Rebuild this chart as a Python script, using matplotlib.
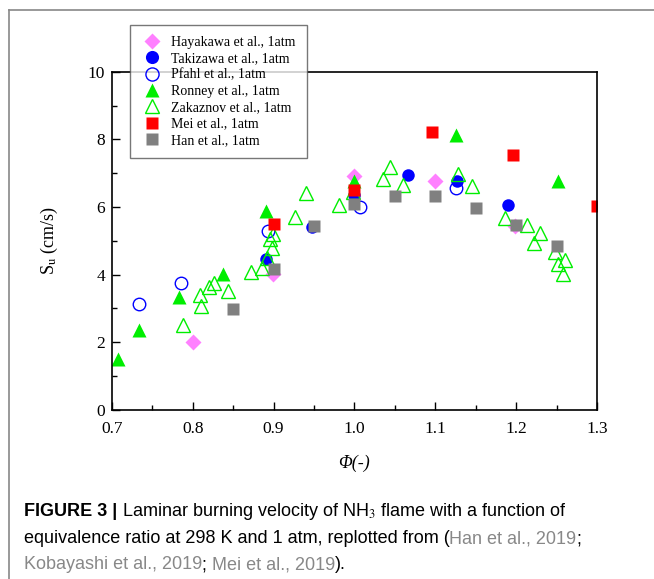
import numpy as np
import matplotlib
matplotlib.use('Agg')
from matplotlib import pyplot as plt
from matplotlib.lines import Line2D
from matplotlib.ticker import MultipleLocator

# equivalence ratio / laminar burning velocity (cm/s)
hay_x = [0.800, 0.899, 0.999, 1.099, 1.198]
hay_y = [2.02, 4.02, 6.92, 6.76, 5.43]

tak_x = [0.891, 0.948, 1.000, 1.066, 1.127, 1.190]
tak_y = [4.46, 5.40, 6.36, 6.95, 6.78, 6.07]

pfa_x = [0.733, 0.785, 0.893, 1.007, 1.126]
pfa_y = [3.13, 3.75, 5.28, 6.00, 6.56]

ron_x = [0.708, 0.733, 0.783, 0.837, 0.891, 1.000, 1.125, 1.252]
ron_y = [1.50, 2.35, 3.35, 4.01, 5.89, 6.76, 8.14, 6.76]

zak_x = [0.788, 0.809, 0.810, 0.820, 0.826, 0.844, 0.872, 0.886, 0.892,
         0.896, 0.898, 0.899, 0.926, 0.940, 0.981, 0.998, 1.035, 1.044,
         1.060, 1.128, 1.145, 1.186, 1.213, 1.222, 1.229, 1.248, 1.252,
         1.258, 1.260]
zak_y = [2.51, 3.40, 3.08, 3.63, 3.75, 3.53, 4.09, 4.19, 4.49,
         5.05, 4.80, 5.21, 5.72, 6.41, 6.07, 6.44, 6.82, 7.18,
         6.66, 6.98, 6.63, 5.67, 5.47, 4.93, 5.23, 4.68, 4.32,
         4.02, 4.44]

mei_x = [0.900, 1.000, 1.096, 1.196, 1.300]
mei_y = [5.50, 6.51, 8.21, 7.54, 6.02]

han_x = [0.850, 0.900, 0.950, 1.000, 1.050, 1.100, 1.150, 1.200, 1.250]
han_y = [2.98, 4.17, 5.45, 6.09, 6.34, 6.34, 5.97, 5.47, 4.85]

xtick_labels = ['0.7', '0.8', '0.9', '1.0', '1.1', '1.2', '1.3']

plt.rcParams['font.family'] = ['Liberation Serif', 'DejaVu Serif']
plt.rcParams['mathtext.fontset'] = 'stix'

fig = plt.figure(figsize=(6.54, 5.79), dpi=100)
ax = fig.add_axes([0.171, 0.292, 0.742, 0.584])

ax.plot(hay_x, hay_y, 'D', color='#ff80ff', ms=8, mec='none', label='Hayakawa et al., 1atm')
ax.plot(tak_x, tak_y, 'o', color='#0000ff', ms=9, mec='none', label='Takizawa et al., 1atm')
ax.plot(pfa_x, pfa_y, 'o', mfc='none', mec='#0000ff', ms=9, mew=1.0, label='Pfahl et al., 1atm')
ax.plot(ron_x, ron_y, '^', color='#00ee00', ms=10, mec='none', label='Ronney et al., 1atm')
ax.plot(zak_x, zak_y, '^', mfc='none', mec='#00ee00', ms=10, mew=1.0, label='Zakaznov et al., 1atm')
ax.plot(mei_x, mei_y, 's', color='#ff0000', ms=8, mec='none', label='Mei et al., 1atm')
ax.plot(han_x, han_y, 's', color='#808080', ms=8, mec='none', label='Han et al., 1atm')

ax.set_xlim(0.7, 1.3)
ax.set_ylim(0, 10)
ax.xaxis.set_minor_locator(MultipleLocator(0.05))
ax.yaxis.set_major_locator(MultipleLocator(2))
ax.yaxis.set_minor_locator(MultipleLocator(1))
ax.set_xticks(np.arange(0.7, 1.31, 0.1))
ax.set_xticklabels(xtick_labels)
ax.tick_params(which='both', direction='in', labelsize=12.5, width=1.0)
ax.tick_params(which='major', length=6)
ax.tick_params(which='minor', length=3.5)
ax.tick_params(axis='x', pad=8)
ax.tick_params(axis='y', pad=5)
for s in ax.spines.values():
    s.set_linewidth(1.2)

ax.set_xlabel('Φ(-)', fontsize=13, style='italic', labelpad=13)
ax.set_ylabel(r'S$_\mathrm{u}$ (cm/s)', fontsize=13, labelpad=20)

leg = ax.legend(loc='upper left', bbox_to_anchor=(0.037, 1.139), borderaxespad=0,
                fontsize=10, frameon=True, fancybox=False, edgecolor='#555555',
                handletextpad=0.6, labelspacing=0.24, borderpad=0.8,
                handlelength=1.6, markerscale=1.05)
leg.get_frame().set_linewidth(1.0)
leg.set_zorder(5)

# caption, segments placed one after another
cap_font = ['Liberation Sans', 'DejaVu Sans']
cap_lines = [
    [('FIGURE 3 | ', 'k', 'bold'),
     ('Laminar burning velocity of NH$_3$ flame with a function of', 'k', 'normal')],
    [('equivalence ratio at 298 K and 1 atm, replotted from (', 'k', 'normal'),
     ('Han et al., 2019', '#888888', 'normal'), (';', 'k', 'normal')],
    [('Kobayashi et al., 2019', '#888888', 'normal'), ('; ', 'k', 'normal'),
     ('Mei et al., 2019', '#888888', 'normal'), (').', 'k', 'normal')],
]
cap_y = [0.108, 0.062, 0.017]
renderer = fig.canvas.get_renderer()
for segs, y in zip(cap_lines, cap_y):
    x = 0.036
    for txt, col, wt in segs:
        t = fig.text(x, y, txt, fontsize=13, fontweight=wt, family=cap_font, color=col)
        bb = t.get_window_extent(renderer)
        x += bb.width / fig.bbox.width

# page frame
fig.add_artist(Line2D([0.014, 1.0], [0.983, 0.983], color='#888888', lw=1.2))
fig.add_artist(Line2D([0.014, 0.014], [0.0, 0.983], color='#888888', lw=1.2))

fig.savefig('out.png', dpi=100)
